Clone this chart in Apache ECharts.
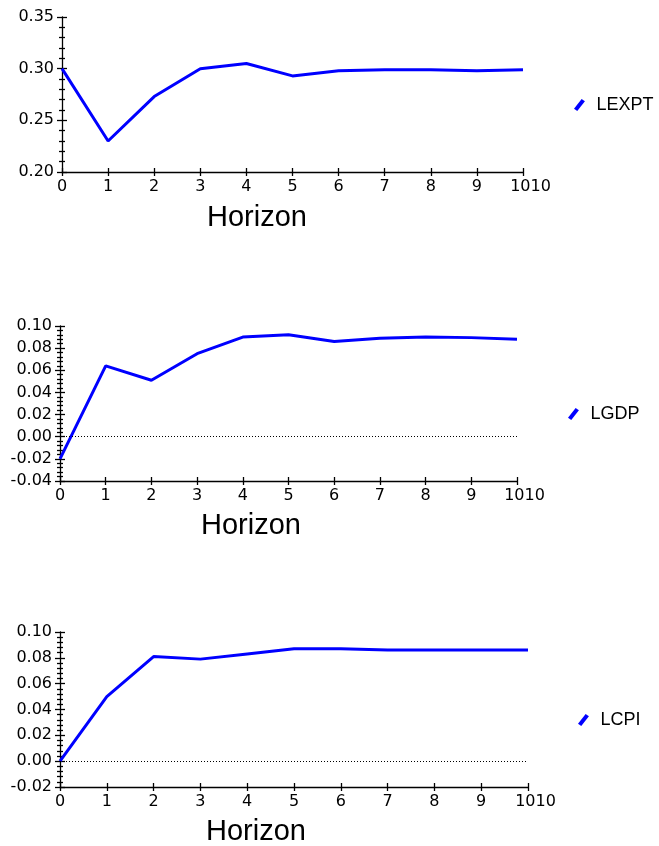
<!DOCTYPE html>
<html lang="en">
<head>
    <meta charset="UTF-8">
    <title>Horizon</title>
    <style>
        *{
            margin: 0;
            padding: 0;
        }
        #main{
            width: 659px;
            height: 846px;
            background: #fff;
        }
    </style>
    <script src="https://cdn.jsdelivr.net/npm/echarts@6/dist/echarts.min.js"></script>
</head>
<body>
    <div id="main"></div>
    <script>
        // horizon steps on the x axis
        var horizon = ['0','1','2','3','4','5','6','7','8','9','10'];
        // responses
        var lexpt = [0.300, 0.230, 0.273, 0.300, 0.305, 0.293, 0.298, 0.299, 0.299, 0.298, 0.299];
        var lgdp  = [-0.020, 0.064, 0.051, 0.075, 0.090, 0.092, 0.086, 0.089, 0.090, 0.0895, 0.088];
        var lcpi  = [0.000, 0.050, 0.081, 0.079, 0.083, 0.087, 0.087, 0.086, 0.086, 0.086, 0.086];
        var names = ['LEXPT', 'LGDP', 'LCPI'];
        // y ranges [min, max, interval, minor splits]
        var yRanges = [[0.20, 0.35, 0.05, 5], [-0.04, 0.10, 0.02, 5], [-0.02, 0.10, 0.02, 5]];

        var myChart = echarts.init(document.getElementById('main'));

        var grids = [
            {left: 62, top: 17, width: 461, height: 155},
            {left: 60, top: 326, width: 457, height: 155},
            {left: 60, top: 632, width: 468, height: 155}
        ];
        var legendPos = [[569, 91], [563, 400], [573, 706]];
        var horizonPos = [[257, 218], [251, 526], [256, 832]];
        var allData = [lexpt, lgdp, lcpi];

        var xAxes = [], yAxes = [], series = [], legends = [], graphics = [];
        var black = {color: '#000', width: 1.3};
        var tickFont = {fontFamily: 'DejaVu Sans', fontSize: 16, color: '#000'};

        for (var i = 0; i < 3; i++) {
            var r = yRanges[i];
            // main x axis, ticks pointing down
            xAxes.push({
                type: 'category', gridIndex: i, data: horizon, boundaryGap: false,
                axisLine: {onZero: false, lineStyle: black},
                axisTick: {show: true, length: 4, lineStyle: black, alignWithLabel: true},
                axisLabel: Object.assign({
                    margin: 7, interval: 0,
                    formatter: function (v) { return v === '10' ? '{p|1010}' : v; },
                    rich: {p: {fontFamily: 'DejaVu Sans', fontSize: 16, color: '#000', padding: [0, 0, 0, 15]}}
                }, tickFont),
                splitLine: {show: false}
            });
            // twin x axis only for upward tick halves
            xAxes.push({
                type: 'category', gridIndex: i, data: horizon, boundaryGap: false, position: 'bottom',
                axisLine: {show: false, onZero: false},
                axisTick: {show: true, inside: true, length: 4, lineStyle: black},
                axisLabel: {show: false}, splitLine: {show: false}
            });
            yAxes.push({
                type: 'value', gridIndex: i, min: r[0], max: r[1], interval: r[2],
                axisLine: {show: true, onZero: false, lineStyle: black},
                axisTick: {show: true, length: 5, lineStyle: black},
                minorTick: {show: true, splitNumber: r[3], length: 3, lineStyle: black},
                axisLabel: Object.assign({margin: 8, formatter: function (v) { return v.toFixed(2); }}, tickFont),
                splitLine: {show: false}, minorSplitLine: {show: false}
            });
            yAxes.push({
                type: 'value', gridIndex: i, min: r[0], max: r[1], interval: r[2], position: 'left',
                axisLine: {show: false, onZero: false},
                axisTick: {show: true, inside: true, length: 5, lineStyle: black},
                minorTick: {show: true, splitNumber: r[3], length: 3, lineStyle: black},
                axisLabel: {show: false}, splitLine: {show: false}
            });

            var s = {
                name: names[i], type: 'line', xAxisIndex: i * 2, yAxisIndex: i * 2,
                data: allData[i], symbol: 'none', silent: true,
                lineStyle: {color: '#0000ff', width: 3}, itemStyle: {color: '#0000ff'}
            };
            if (i > 0) {
                s.markLine = {
                    silent: true, symbol: 'none', label: {show: false},
                    lineStyle: {color: '#000', type: [1, 2], width: 1},
                    data: [{yAxis: 0}]
                };
            }
            series.push(s);

            legends.push({
                data: [names[i]], left: legendPos[i][0], top: legendPos[i][1],
                itemWidth: 24, itemHeight: 12, itemGap: 0,
                icon: 'path://M7,0 L10,2 L3,11 L0,9 Z',
                textStyle: {fontFamily: 'Liberation Sans', fontSize: 18, color: '#000'}
            });

            graphics.push({
                type: 'text', x: horizonPos[i][0], y: horizonPos[i][1],
                style: {text: 'Horizon', font: '29px "Liberation Sans"', fill: '#000',
                        textAlign: 'center', textVerticalAlign: 'middle'}
            });
        }

        var option = {
            backgroundColor: '#fff',
            animation: false,
            grid: grids,
            xAxis: xAxes,
            yAxis: yAxes,
            legend: legends,
            series: series,
            graphic: graphics
        };
        myChart.setOption(option);
    </script>
</body>
</html>
